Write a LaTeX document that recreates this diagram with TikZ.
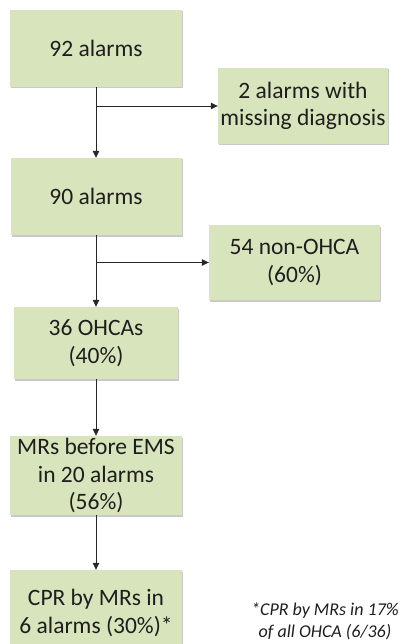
\documentclass[tikz,border=0pt]{standalone}
\usepackage{fontspec}
\setmainfont{Carlito}
\usetikzlibrary{arrows.meta,shadows}
\definecolor{boxfill}{HTML}{D8E4BC}
\definecolor{txt}{HTML}{1E1E1E}
\tikzset{
  box/.style={fill=boxfill, draw=none, align=center, text=txt, inner sep=0pt,
    font=\fontsize{23.5}{27.5}\selectfont,
    drop shadow={shadow xshift=1pt, shadow yshift=-1.5pt, opacity=0.35, fill=black!60}},
  arr/.style={draw=black!85, line width=0.8pt, -{Triangle[length=7pt,width=6.5pt]}},
  note/.style={align=center, text=txt, font=\fontsize{18}{22}\selectfont\itshape, inner sep=0pt}
}
\begin{document}
\begin{tikzpicture}[x=1pt,y=-1pt]
\useasboundingbox (0,0) rectangle (402,644);
\clip (0,0) rectangle (402,644);
\node[box, minimum width=172pt, minimum height=77pt] (b1) at (96,48.5) {92 alarms};
\node[box, minimum width=170pt, minimum height=76pt] (b2) at (303,106) {2 alarms with\\missing diagnosis};
\node[box, minimum width=171pt, minimum height=77pt] (b3) at (96,196.5) {90 alarms};
\node[box, minimum width=171pt, minimum height=75pt] (b4) at (294.5,262.5) {54 non-OHCA\\(60\%)};
\node[box, minimum width=164pt, minimum height=72pt] (b5) at (96,343) {36 OHCAs\\(40\%)};
\node[box, minimum width=172pt, minimum height=79pt] (b6) at (96,475.5) {MRs before EMS\\in 20 alarms\\(56\%)};
\node[box, minimum width=172pt, minimum height=86pt] (b7) at (96,613) {CPR by MRs in\\6 alarms (30\%)*};
\node[note] (fn) at (325,621) {*CPR by MRs in 17\%\\of all OHCA (6/36)};
\coordinate (j1) at (96,106);
\coordinate (j2) at (96,262.5);
\draw[arr] (b1.south) -- (b3.north);
\draw[arr] (j1) -- (b2.west);
\draw[arr] (b3.south) -- (b5.north);
\draw[arr] (j2) -- (b4.west);
\draw[arr] (b5.south) -- (b6.north);
\draw[arr] (b6.south) -- (b7.north);
\end{tikzpicture}
\end{document}
